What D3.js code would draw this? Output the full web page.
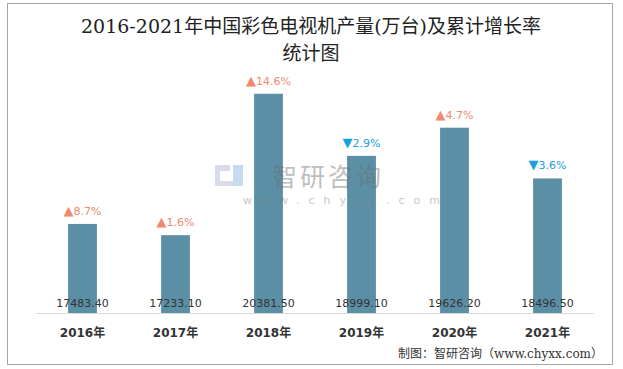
<!DOCTYPE html>
<html><head><meta charset="utf-8">
<script src="https://cdn.jsdelivr.net/npm/d3@7"></script>
<style>body{margin:0;background:#fff;}svg{display:block;}</style>
</head><body>
<svg id="c" width="623" height="369"></svg>
<script>
const years = ["2016年","2017年","2018年","2019年","2020年","2021年"];
const output = [17483.40,17233.10,20381.50,18999.10,19626.20,18496.50];
const growth = [8.7,1.6,14.6,-2.9,4.7,-3.6];
const growthLabels = ["8.7%","1.6%","14.6%","2.9%","4.7%","3.6%"];
const yDomain = [15500, 21000];

const svg = d3.select("#c");
svg.append("rect").attr("x",7.5).attr("y",3.5).attr("width",605).attr("height",361)
  .attr("fill","#fff").attr("stroke","#a6a6a6").attr("stroke-width",1);

const title = svg.append("text").attr("text-anchor","middle")
  .attr("font-family","'DejaVu Serif','Noto Sans CJK SC',serif").attr("font-size",19).attr("fill","#222");
title.append("tspan").attr("x",311).attr("y",33).text("2016-2021年中国彩色电视机产量(万台)及累计增长率");
title.append("tspan").attr("x",311).attr("y",60).text("统计图");

const x = d3.scaleBand().domain(years).range([36,594]).paddingInner(0.69).paddingOuter(0.345);
const y = d3.scaleLinear().domain(yDomain).range([313,66]);

svg.append("g").selectAll("rect").data(years).join("rect")
  .attr("x",d=>x(d)).attr("width",x.bandwidth())
  .attr("y",(d,i)=>y(output[i])).attr("height",(d,i)=>y(yDomain[0])-y(output[i]))
  .attr("fill","#5b8fa6");

// watermark (on top, translucent)
const wm = svg.append("g").attr("opacity",0.45);
wm.append("rect").attr("x",215).attr("y",165).attr("width",15).attr("height",6).attr("fill","#a9b6cf");
wm.append("rect").attr("x",215).attr("y",165).attr("width",5).attr("height",21).attr("fill","#a9b6cf");
wm.append("rect").attr("x",215).attr("y",181).attr("width",18).attr("height",5).attr("fill","#a9b6cf");
wm.append("rect").attr("x",233).attr("y",165).attr("width",10).attr("height",21).attr("fill","#7fb0e0");
wm.append("text").attr("x",272).attr("y",186).attr("font-family","'Noto Sans CJK SC'").attr("font-size",25)
  .attr("fill","#6f6f6f").attr("letter-spacing",3).text("智研咨询");
wm.append("text").attr("x",243).attr("y",204).attr("font-family","'DejaVu Sans'").attr("font-size",11)
  .attr("fill","#808080").attr("letter-spacing",9).text("www.chyxx.com");

svg.append("line").attr("x1",36).attr("x2",594).attr("y1",313.5).attr("y2",313.5)
  .attr("stroke","#d9d9d9").attr("stroke-width",1);

// value labels
svg.append("g").selectAll("text").data(years).join("text")
  .attr("x",d=>x(d)+x.bandwidth()/2).attr("y",307).attr("text-anchor","middle")
  .attr("font-family","'DejaVu Sans',sans-serif").attr("font-size",11).attr("fill","#333")
  .text((d,i)=>output[i].toFixed(2));

// growth labels
const gl = svg.append("g").selectAll("text").data(years).join("text")
  .attr("x",d=>x(d)+x.bandwidth()/2).attr("y",(d,i)=>y(output[i])-9).attr("text-anchor","middle")
  .attr("font-family","'DejaVu Sans',sans-serif").attr("font-size",11)
  .attr("fill",(d,i)=>growth[i]>=0?"#f08a6e":"#1aa0dc");
gl.append("tspan").attr("font-size",13).text((d,i)=>growth[i]>=0?"▲":"▼");
gl.append("tspan").text((d,i)=>growthLabels[i]);

// axis labels
const ax = svg.append("g").attr("transform","translate(0,313)")
  .call(d3.axisBottom(x).tickSize(0).tickPadding(15));
ax.select(".domain").remove();
ax.selectAll("text").attr("font-family","'DejaVu Sans','Noto Sans CJK SC',sans-serif")
  .attr("font-size",12).attr("font-weight","bold").attr("fill","#333");

svg.append("text").attr("x",603).attr("y",358).attr("text-anchor","end")
  .attr("font-family","'DejaVu Serif','Noto Sans CJK SC',serif").attr("font-size",12).attr("fill","#333")
  .text("制图：智研咨询（www.chyxx.com）");
</script>
</body></html>
